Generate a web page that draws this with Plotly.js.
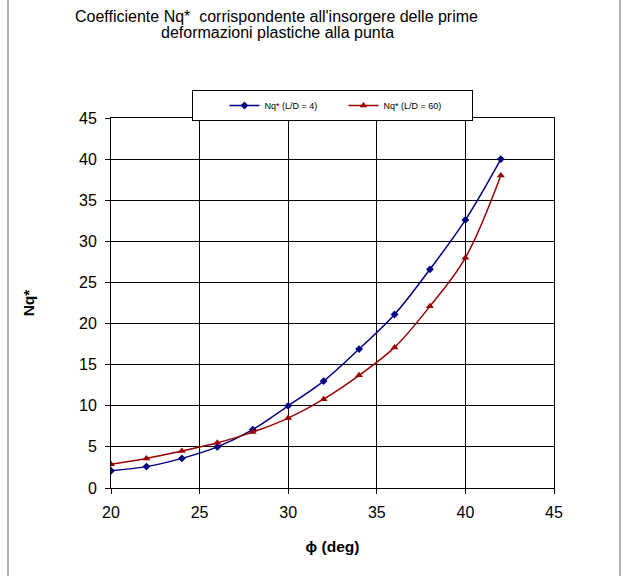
<!DOCTYPE html>
<html>
<head>
<meta charset="utf-8">
<script src="https://cdn.plot.ly/plotly-3.0.1.min.js"></script>
<style>
  html, body { margin: 0; padding: 0; background: #fff; }
  #chart { width: 625px; height: 576px; }
</style>
</head>
<body>
<div id="chart"></div>
<script>
// Data
const phi = [20, 22, 24, 26, 28, 30, 32, 34, 36, 38, 40, 42];
const nqLD4 = [2.1, 2.6, 3.6, 5.0, 7.1, 10.0, 13.0, 16.9, 21.1, 26.6, 32.6, 40.0];
const nqLD60 = [2.9, 3.6, 4.5, 5.5, 6.8, 8.5, 10.8, 13.7, 17.1, 22.1, 28.0, 38.0];
const seriesNames = ['Nq* (L/D = 4)', 'Nq* (L/D = 60)'];
const titleLines = ['Coefficiente Nq*\u00a0 corrispondente all\'insorgere delle prime', 'deformazioni plastiche alla punta'];
const xTicks = [20, 25, 30, 35, 40, 45];
const yTicks = [0, 5, 10, 15, 20, 25, 30, 35, 40, 45];

const FONT = 'Liberation Sans, Arial, Helvetica, sans-serif';
const nb = '\u00a0';

const traces = [
  {
    x: phi, y: nqLD4, name: seriesNames[0], type: 'scatter', mode: 'lines+markers',
    line: { color: '#000080', width: 1.5, shape: 'spline' },
    marker: { symbol: 'diamond', size: 6, color: '#000080' }
  },
  {
    x: phi, y: nqLD60, name: seriesNames[1], type: 'scatter', mode: 'lines+markers',
    line: { color: '#990000', width: 1.5, shape: 'spline' },
    marker: { symbol: 'triangle-up', size: 7, color: '#990000' }
  }
];

const layout = {
  width: 625, height: 576,
  margin: { l: 111, r: 71, t: 118, b: 88, pad: 0 },
  paper_bgcolor: '#fff', plot_bgcolor: '#fff',
  font: { family: FONT, color: '#000' },
  showlegend: true,
  title: {
    text: titleLines[0],
    font: { family: FONT, size: 16, color: '#000' },
    xref: 'container', x: 276.5 / 625, xanchor: 'center',
    yref: 'container', y: 1 - 16 / 576, yanchor: 'middle'
  },
  annotations: [
    {
      text: titleLines[1], showarrow: false,
      xref: 'paper', yref: 'paper', x: (277.5 - 111) / 443, y: (488 - 33) / 370,
      xanchor: 'center', yanchor: 'middle',
      font: { family: FONT, size: 16, color: '#000' }
    }
  ],
  xaxis: {
    range: [20, 45], tickvals: xTicks, ticktext: xTicks.map(String),
    showgrid: true, gridcolor: '#000', gridwidth: 1,
    showline: true, linecolor: '#000', linewidth: 1, mirror: true,
    ticks: 'outside', ticklen: 5, tickcolor: '#000', ticklabelstandoff: 5,
    tickfont: { family: FONT, size: 16, color: '#000' },
    zeroline: false,
    title: { text: '\u03d5 (deg)' + nb.repeat(6), font: { family: FONT, size: 15.5, color: '#000', weight: 'bold' }, standoff: 20 }
  },
  yaxis: {
    range: [0, 45], tickvals: yTicks, ticktext: yTicks.map(String),
    showgrid: true, gridcolor: '#000', gridwidth: 1,
    showline: true, linecolor: '#000', linewidth: 1, mirror: true,
    ticks: 'outside', ticklen: 5, tickcolor: '#000', ticklabelstandoff: 5,
    tickfont: { family: FONT, size: 16, color: '#000' },
    zeroline: false,
    title: { text: 'Nq*', font: { family: FONT, size: 15.5, color: '#000', weight: 'bold' }, standoff: 40 }
  },
  legend: {
    orientation: 'h', x: 0.501, xanchor: 'center', y: 1.0757, yanchor: 'top',
    bordercolor: '#000', borderwidth: 1, bgcolor: '#fff',
    font: { family: FONT, size: 9, color: '#000' },
    title: { text: nb.repeat(12), side: 'left', font: { family: FONT, size: 9 } },
    itemwidth: 30, entrywidth: 83, indentation: -9
  },
  shapes: [
    { type: 'line', xref: 'paper', yref: 'paper', x0: (8 - 111) / 443, x1: (8 - 111) / 443, y0: -0.24, y1: 1.32, line: { color: '#666', width: 1 } },
    { type: 'line', xref: 'paper', yref: 'paper', x0: (620 - 111) / 443, x1: (620 - 111) / 443, y0: -0.24, y1: 1.32, line: { color: '#666', width: 1 } }
  ]
};

Plotly.newPlot('chart', traces, layout, { displayModeBar: false, staticPlot: true });
</script>
</body>
</html>
